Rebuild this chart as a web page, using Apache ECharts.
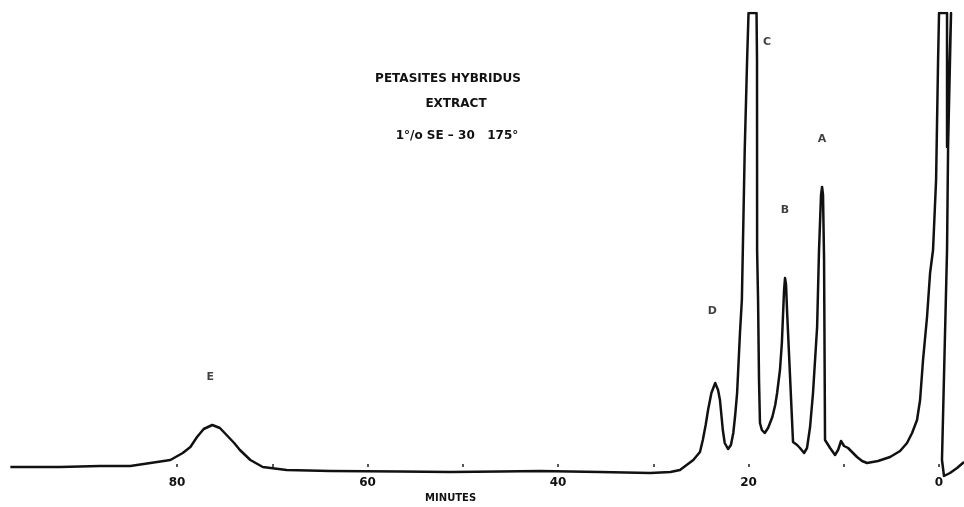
<!DOCTYPE html>
<html>
<head>
<meta charset="utf-8">
<script src="https://cdn.jsdelivr.net/npm/echarts@6/dist/echarts.min.js"></script>
<style>html,body{margin:0;padding:0;background:#fff}#c{width:964px;height:507px}</style>
</head>
<body>
<div id="c"></div>
<script>
// Retention time (minutes) and detector response (arbitrary units, pen height)
const minutes = [97.5, 92.3, 88.1, 84.9, 82.8, 80.7, 79.4, 78.6, 77.9, 77.2, 76.3, 75.5, 74.8, 74.0, 73.4, 72.3, 71.0, 68.5, 63.9, 56.6, 51.3, 46.1, 41.9, 35.6, 30.3, 28.2, 27.2, 25.8, 25.1, 24.8, 24.5, 24.25, 23.9, 23.5, 23.2, 23.0, 22.7, 22.5, 22.15, 21.85, 21.6, 21.4, 21.2, 20.9, 20.7, 20.6, 20.4, 20.15, 20.0, 19.16, 19.11, 19.1, 19.0, 18.9, 18.8, 18.6, 18.3, 17.95, 17.5, 17.2, 17.0, 16.7, 16.5, 16.27, 16.17, 16.06, 15.96, 15.64, 15.33, 14.9, 14.6, 14.17, 13.86, 13.54, 13.23, 12.8, 12.6, 12.39, 12.28, 12.18, 12.07, 11.97, 11.44, 10.92, 10.6, 10.29, 9.97, 9.55, 9.03, 8.61, 8.08, 7.56, 6.4, 5.14, 4.09, 3.36, 2.83, 2.31, 1.99, 1.68, 1.26, 0.94, 0.63, 0.31, 0.1, 0.0, -0.84, -0.84, -1.26, -0.95, -0.84, -0.31, -0.42, -0.52, -1.15, -1.89, -2.62];
const response = [0, 0, 1, 1, 4, 7, 14, 20, 30, 38, 42, 39, 32, 24, 17, 7, 0, -3, -4, -4.5, -5, -4.5, -4, -5, -6, -5, -3, 7, 15, 27, 42, 57, 74, 84, 77, 67, 37, 24, 18, 22, 34, 52, 74, 134, 167, 217, 317, 407, 454, 454, 407, 217, 167, 87, 44, 37, 34, 39, 50, 62, 74, 97, 124, 177, 189, 182, 157, 90, 25, 22, 19, 14, 19, 40, 74, 140, 217, 272, 280, 272, 207, 27, 19, 12, 17, 26, 21, 19, 14, 10, 6, 4, 6, 10, 16, 24, 34, 47, 67, 107, 150, 194, 217, 287, 407, 454, 454, 320, 454, 320, 217, 7, 5, -9, -6, -1, 5];

// Peak annotations
const peakNames = ['E', 'D', 'C', 'B', 'A'];
const peakLabelMinutes = [76.5, 23.8, 18.05, 16.17, 12.28];
const peakLabelHeights = [90, 156, 425, 257, 328];

// Axis ticks
const tickValues = [0, 10, 20, 30, 40, 50, 60, 70, 80];
const tickLabels = [0, 20, 40, 60, 80];

const titleLines = ['PETASITES HYBRIDUS', 'EXTRACT', '1°/o SE – 30   175°'];

const chart = echarts.init(document.getElementById('c'), null, {renderer: 'canvas'});
const font = 'DejaVu Sans';
chart.setOption({
  animation: false,
  backgroundColor: '#ffffff',
  title: [
    {text: titleLines[0], left: 443, top: 68, textAlign: 'center', padding: 5,
     textStyle: {fontFamily: font, fontSize: 12, fontWeight: 'bold', color: '#111'}},
    {text: titleLines[1], left: 451, top: 93, textAlign: 'center', padding: 5,
     textStyle: {fontFamily: font, fontSize: 12, fontWeight: 'bold', color: '#111'}},
    {text: titleLines[2], left: 452, top: 125, textAlign: 'center', padding: 5,
     textStyle: {fontFamily: font, fontSize: 12, fontWeight: 'bold', color: '#111'}}
  ],
  grid: {left: 9.4, right: 0.2, top: 13, bottom: 30, containLabel: false, outerBoundsMode: 'none'},
  xAxis: {
    type: 'value',
    inverse: true,
    min: -2.6,
    max: 97.6,
    name: 'MINUTES',
    nameLocation: 'middle',
    nameGap: 15,
    nameTextStyle: {fontFamily: font, fontSize: 10, fontWeight: 'bold', color: '#111', padding: [0, 72, 0, 0]},
    axisLine: {show: false, onZero: true},
    axisTick: {show: true, inside: true, length: 3, customValues: tickValues,
               lineStyle: {color: '#222', width: 1.5}},
    axisLabel: {show: true, customValues: tickLabels, margin: 0,
                fontFamily: font, fontSize: 12, fontWeight: 'bold', color: '#111'},
    splitLine: {show: false}
  },
  yAxis: {
    type: 'value',
    min: -10,
    max: 454,
    show: false,
    splitLine: {show: false}
  },
  series: [
    {
      type: 'line',
      name: 'Detector response',
      data: minutes.map((m, i) => [m, response[i]]),
      showSymbol: false,
      smooth: false,
      clip: true,
      lineStyle: {color: '#111', width: 2.5, join: 'round'}
    },
    {
      type: 'scatter',
      name: 'Peaks',
      symbolSize: 0,
      data: peakNames.map((n, i) => ({name: n, value: [peakLabelMinutes[i], peakLabelHeights[i]]})),
      label: {show: true, position: 'inside', formatter: '{b}',
              fontFamily: font, fontSize: 11, fontWeight: 'bold', color: '#111'}
    }
  ]
});
</script>
</body>
</html>
